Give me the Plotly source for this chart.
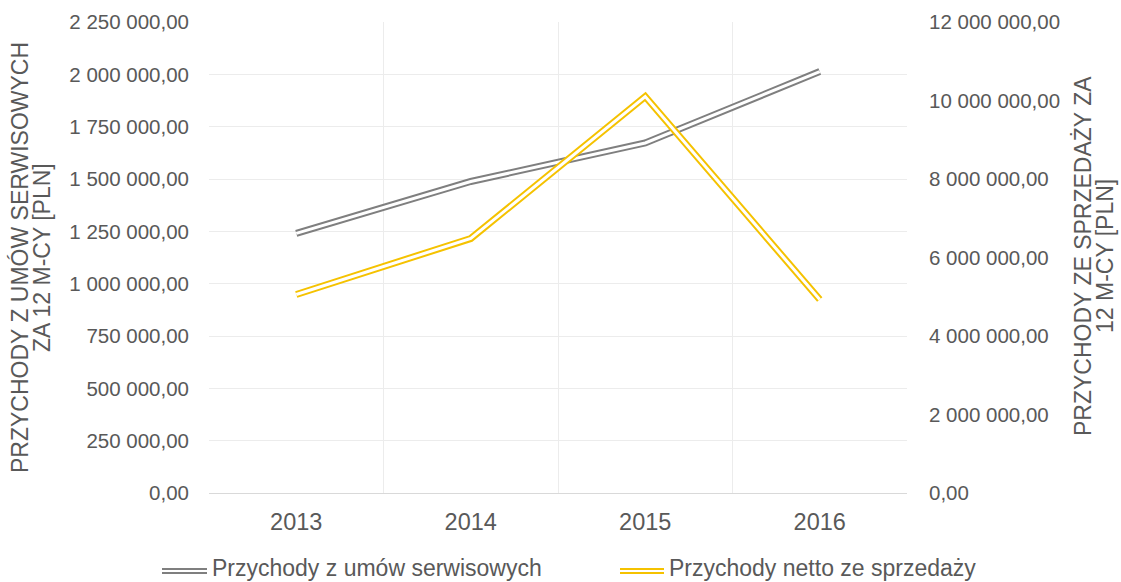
import plotly.graph_objects as go

years = ["2013", "2014", "2015", "2016"]
serwis = [1240000, 1488000, 1672000, 2013000]      # left axis
sprzedaz = [5057000, 6484000, 10100000, 4930000]  # right axis

name_serwis = "Przychody z umów serwisowych"
name_sprzedaz = "Przychody netto ze sprzedaży"
title_left = ["PRZYCHODY Z UMÓW SERWISOWYCH", "ZA 12 M-CY [PLN]"]
title_right = ["PRZYCHODY ZE SPRZEDAŻY ZA", "12 M-CY [PLN]"]

GRAY = "#7f7f7f"
GOLD = "#f5c200"
TXT = "#595959"
FONT = "Liberation Sans, Arial, sans-serif"

fig = go.Figure()
# double-line effect: thick coloured line with a thin white line on top
fig.add_trace(go.Scatter(x=years, y=serwis, mode="lines", name=name_serwis,
                         line=dict(color=GRAY, width=7), showlegend=False, hoverinfo="skip"))
fig.add_trace(go.Scatter(x=years, y=serwis, mode="lines", name=name_serwis,
                         line=dict(color="white", width=3), showlegend=False))
fig.add_trace(go.Scatter(x=years, y=sprzedaz, mode="lines", name=name_sprzedaz, yaxis="y2",
                         line=dict(color=GOLD, width=7), showlegend=False, hoverinfo="skip"))
fig.add_trace(go.Scatter(x=years, y=sprzedaz, mode="lines", name=name_sprzedaz, yaxis="y2",
                         line=dict(color="white", width=3), showlegend=False))

W, H = 1121, 582
L, R, T, B = 209, 214, 22, 89
pw, ph = W - L - R, H - T - B

def px(x):
    return (x - L) / pw

def py(y):
    return (H - B - y) / ph

shapes = []
annotations = []
legend_items = [(name_serwis, GRAY, 162, 207), (name_sprzedaz, GOLD, 620, 664)]
ly = 571
for name, col, x0, x1 in legend_items:
    shapes.append(dict(type="line", xref="paper", yref="paper", x0=px(x0), x1=px(x1),
                       y0=py(ly), y1=py(ly), line=dict(color=col, width=6)))
    shapes.append(dict(type="line", xref="paper", yref="paper", x0=px(x0 - 1), x1=px(x1 + 1),
                       y0=py(ly), y1=py(ly), line=dict(color="white", width=2)))
    annotations.append(dict(text=name, xref="paper", yref="paper", x=px(x1 + 3), y=py(ly - 3),
                            xanchor="left", yanchor="middle", showarrow=False,
                            font=dict(size=23, color=TXT, family=FONT)))

# axis titles (one annotation per line, rotated)
for text, xc, yc in [(title_left[0], 20, 258), (title_left[1], 42, 258),
                     (title_right[0], 1083, 256), (title_right[1], 1105, 256)]:
    annotations.append(dict(text=text, xref="paper", yref="paper", x=px(xc), y=py(yc),
                            xanchor="center", yanchor="middle", textangle=-90, showarrow=False,
                            font=dict(size=23, color=TXT, family=FONT)))

fig.update_layout(
    width=W, height=H,
    margin=dict(l=L, r=R, t=T, b=B, autoexpand=False),
    paper_bgcolor="white", plot_bgcolor="white",
    separators=", ",
    font=dict(family=FONT, size=20.5, color=TXT),
    showlegend=False,
    shapes=shapes,
    annotations=annotations,
    xaxis=dict(type="category", tickson="boundaries", showgrid=True, gridcolor="#ececec",
               gridwidth=1, showline=True, linecolor="#d9d9d9", linewidth=1, ticks="",
               ticklabelstandoff=8, tickfont=dict(size=23.5, color=TXT), range=[-0.5, 3.5],
               zeroline=False),
    yaxis=dict(range=[0, 2250000], dtick=250000, tickformat=",.2f", showgrid=True,
               gridcolor="#ececec", gridwidth=1, zeroline=False, ticks="",
               ticklabelstandoff=19, tickfont=dict(size=20.5, color=TXT)),
    yaxis2=dict(range=[0, 12000000], dtick=2000000, tickformat=",.2f", overlaying="y",
                side="right", showgrid=False, zeroline=False, ticks="",
                ticklabelstandoff=21, tickfont=dict(size=20.5, color=TXT)),
)

fig.write_html("out.html", config={"displayModeBar": False},
               post_script="document.body.style.margin='0px';")
